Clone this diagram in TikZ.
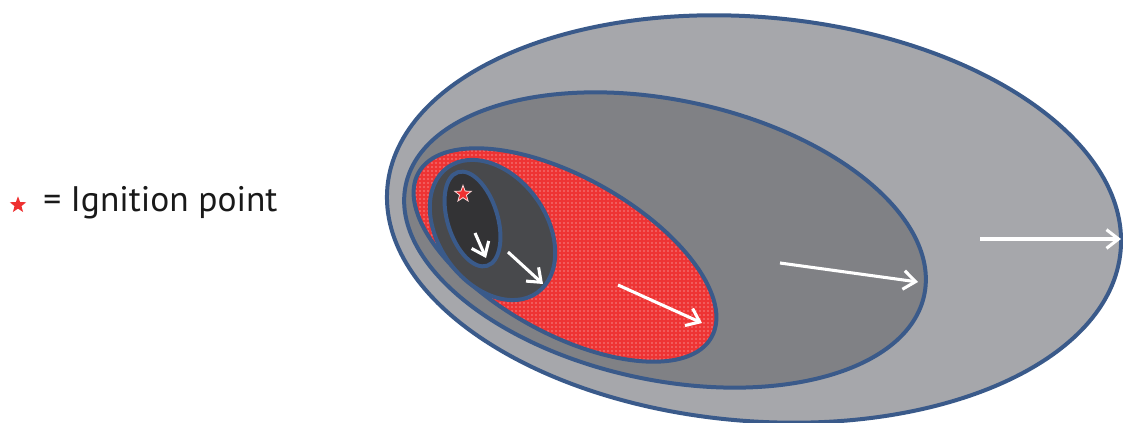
\documentclass[tikz,border=0pt]{standalone}
\usepackage{fontspec}
\setmainfont{PT Sans}
\usetikzlibrary{shapes.geometric,patterns,arrows.meta}
\definecolor{zoneA}{HTML}{A6A7AB}
\definecolor{zoneB}{HTML}{808185}
\definecolor{zoneC}{HTML}{EE3434}
\definecolor{zoneD}{HTML}{48494C}
\definecolor{zoneE}{HTML}{333335}
\definecolor{rim}{HTML}{3A5A8A}
\definecolor{starred}{HTML}{EE3030}
\begin{document}
\begin{tikzpicture}[x=0.75pt,y=0.75pt,yscale=-1,
  zone/.style={draw=rim,line width=3pt},
  spread/.style={draw=white,line width=2.3pt,-{Straight Barb[length=9pt,width=14pt,line width=2.3pt]}},
  ignition/.style={star,star points=5,star point ratio=2.4,inner sep=0pt,fill=starred}]
\useasboundingbox (0,0) rectangle (1123,423);
% zones
\draw[zone,fill=zoneA,rotate around={4.9:(754,219)}] (754,219) ellipse [x radius=368,y radius=202];
\draw[zone,fill=zoneB,rotate around={12:(665,240)}] (665,240) ellipse [x radius=265,y radius=140];
\fill[zoneC,rotate around={29.3:(565,255)}] (565,255) ellipse [x radius=168,y radius=78];
\fill[pattern=dots,pattern color=white!85!zoneC,rotate around={29.3:(565,255)}] (565,255) ellipse [x radius=168,y radius=78];
\draw[zone,rotate around={29.3:(565,255)}] (565,255) ellipse [x radius=168,y radius=78];
\draw[zone,fill=zoneD,rotate around={54.5:(492.5,230)}] (492.5,230) ellipse [x radius=77,y radius=54];
\draw[zone,fill=zoneE,rotate around={72.7:(472.5,219)}] (472.5,219) ellipse [x radius=49,y radius=25];
% spread arrows
\coordinate (a1s) at (475,233); \coordinate (a1e) at (486,258);
\coordinate (a2s) at (508,252); \coordinate (a2e) at (543,284);
\coordinate (a3s) at (618,285); \coordinate (a3e) at (702,323);
\coordinate (a4s) at (780,263); \coordinate (a4e) at (918,282);
\coordinate (a5s) at (980,239); \coordinate (a5e) at (1121,239);
\draw[spread] (a1s) -- (a1e);
\draw[spread] (a2s) -- (a2e);
\draw[spread] (a3s) -- (a3e);
\draw[spread] (a4s) -- (a4e);
\draw[spread] (a5s) -- (a5e);
% ignition point
\node[ignition,draw=white!80!starred,line width=0.6pt,minimum size=13pt] (ign) at (463,194) {};
% legend
\node[ignition,minimum size=13pt] (legstar) at (18,205) {};
\node[anchor=base west,inner sep=0pt,font=\fontsize{26.6}{30}\selectfont,text=black!90] (legtext) at (43,212) {= Ignition point};
\end{tikzpicture}
\end{document}
